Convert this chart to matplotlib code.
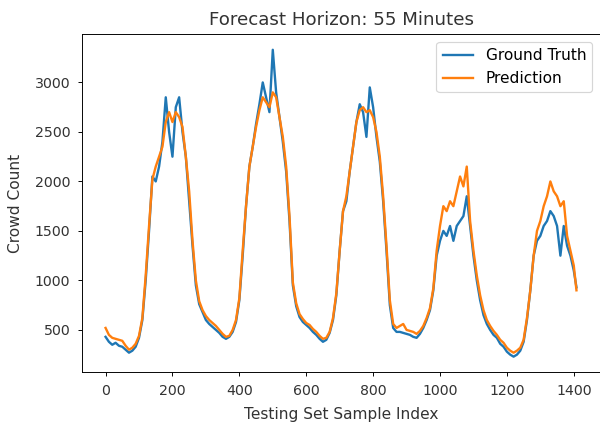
import numpy as np
import matplotlib.pyplot as plt

# sample index (every 10th sample, plus the last one)
sample_idx = list(range(0, 1410, 10)) + [1408]

ground_truth = [
    430, 380, 350, 370, 340, 330, 300, 270, 290, 330,
    420, 600, 1000, 1500, 2050, 2000, 2150, 2400, 2850, 2500,
    2250, 2750, 2850, 2500, 2250, 1800, 1350, 950, 760, 680,
    600, 560, 530, 500, 470, 430, 410, 430, 480, 580,
    800, 1250, 1750, 2150, 2350, 2580, 2780, 3000, 2850, 2700,
    3330, 2900, 2650, 2400, 2100, 1600, 950, 740, 630, 580,
    550, 520, 480, 450, 410, 380, 400, 470, 600, 850,
    1300, 1700, 1800, 2100, 2350, 2600, 2780, 2700, 2450, 2950,
    2750, 2450, 2200, 1800, 1300, 750, 520, 480, 480, 470,
    460, 450, 430, 420, 460, 520, 600, 700, 900, 1250,
    1400, 1500, 1450, 1550, 1400, 1550, 1600, 1650, 1850, 1550,
    1250, 1000, 800, 650, 560, 500, 450, 420, 360, 330,
    280, 250, 230, 250, 290, 380, 600, 900, 1250, 1400,
    1450, 1550, 1600, 1700, 1650, 1550, 1250, 1550, 1350, 1250,
    1100, 930,
]

prediction = [
    520, 450, 420, 410, 400, 390, 340, 300, 320, 360,
    440, 620, 1050, 1550, 2020, 2150, 2250, 2350, 2600, 2700,
    2600, 2700, 2650, 2550, 2250, 1900, 1400, 1000, 790, 700,
    640, 600, 570, 540, 500, 460, 430, 440, 500, 600,
    820, 1300, 1750, 2150, 2350, 2550, 2720, 2850, 2800, 2750,
    2900, 2850, 2650, 2450, 2150, 1650, 980, 770, 660, 610,
    570, 550, 510, 480, 440, 410, 420, 480, 620, 870,
    1300, 1700, 1850, 2100, 2350, 2600, 2720, 2750, 2700, 2720,
    2650, 2500, 2250, 1850, 1350, 800, 560, 520, 540, 560,
    500, 490, 480, 460, 490, 540, 620, 720, 920, 1300,
    1550, 1750, 1700, 1800, 1750, 1900, 2050, 1950, 2150, 1600,
    1300, 1050, 850, 700, 600, 540, 490, 450, 400, 370,
    320, 290, 270, 290, 320, 400, 620, 900, 1250, 1500,
    1600, 1750, 1850, 2000, 1900, 1850, 1750, 1800, 1450, 1300,
    1150, 900,
]

fig = plt.figure(figsize=(600 / 85, 423 / 85), dpi=85)
ax = fig.add_axes([0.1367, 0.1206, 0.8633, 0.798])

ax.plot(sample_idx, ground_truth, label="Ground Truth", lw=2)
ax.plot(sample_idx, prediction, label="Prediction", lw=2)
ax.set_title("Forecast Horizon: 55 Minutes", fontsize=15.5, color="#333333", pad=8)
ax.set_xlabel("Testing Set Sample Index", fontsize=13, color="#333333", labelpad=8)
ax.set_ylabel("Crowd Count", fontsize=13, color="#333333", labelpad=10)
ax.tick_params(labelsize=12, labelcolor="#333333", pad=6.5)
ax.legend(loc="upper right", fontsize=13)

fig.savefig("out.png", dpi=85)
